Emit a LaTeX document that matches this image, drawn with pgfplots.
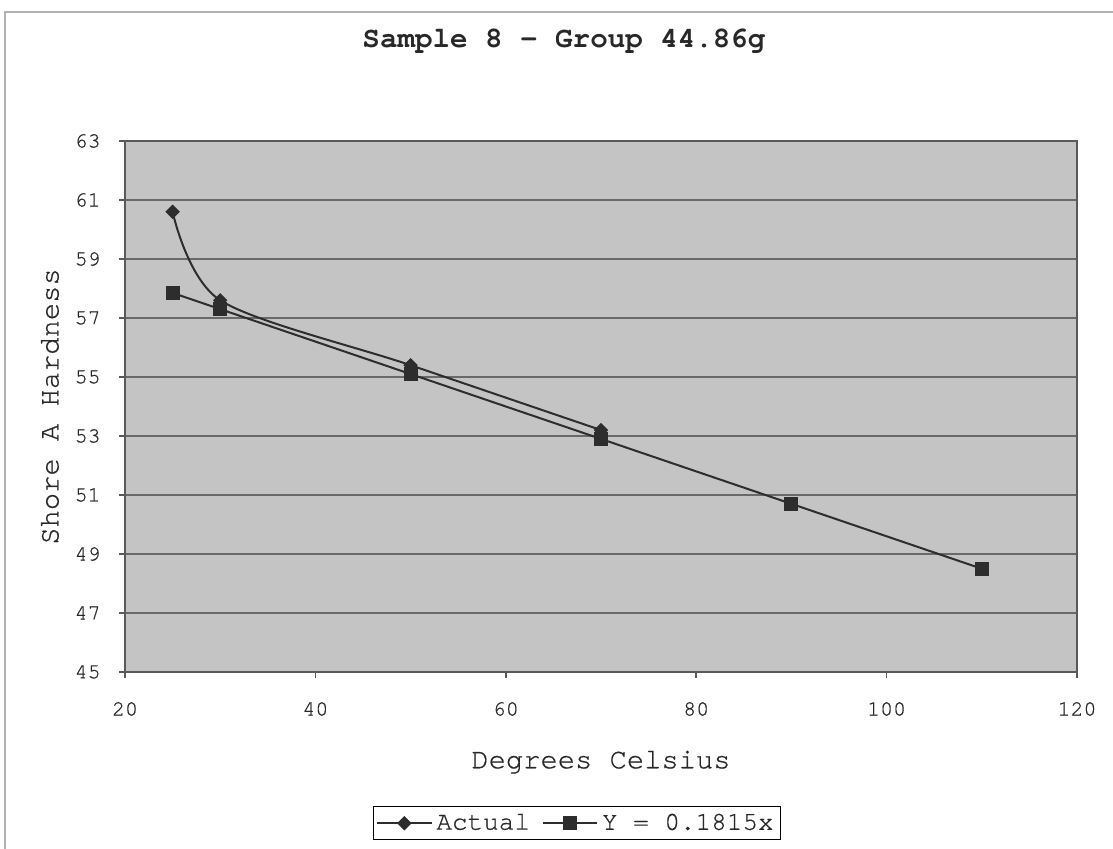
\documentclass[border=0pt]{standalone}
\usepackage{fontspec}
\setmonofont{texgyrecursor}[Extension=.otf, UprightFont=*-regular, BoldFont=*-bold, UprightFeatures={FakeBold=0.6}]
\usepackage{pgfplots}
\usepackage{pgfplotstable}
\pgfplotsset{compat=1.18}
\definecolor{plotbg}{RGB}{196,196,196}
\definecolor{gridc}{RGB}{105,105,105}
\definecolor{datac}{RGB}{45,45,45}
\definecolor{textc}{RGB}{40,40,40}
\pgfplotstableread{
x y
25 60.6
30 57.6
50 55.4
70 53.2
}\actual
\pgfplotstableread{
x y
25 57.85
30 57.3
50 55.1
70 52.9
90 50.7
110 48.5
}\fit
\begin{document}
\begin{tikzpicture}
\begin{axis}[
  at={(0pt,0pt)}, anchor=south west,
  scale only axis, width=476pt, height=265.5pt,
  xmin=20, xmax=120, ymin=45, ymax=63,
  xtick={20,40,...,120}, ytick={45,47,...,63},
  /pgf/number format/assume math mode=true,
  tick align=outside, major tick length=3pt,
  xtick pos=left, ytick pos=left,
  axis background/.style={fill=plotbg},
  ymajorgrids, grid style={gridc, line width=0.75pt},
  axis line style={gray!70!black, line width=1pt},
  tick style={gray!70!black, line width=0.75pt},
  ticklabel style={font=\fontsize{10.8}{13}\selectfont\ttfamily, text=textc},
  xticklabel style={anchor=center, yshift=-15.5pt},
  yticklabel style={anchor=east, inner sep=0pt, xshift=-9pt},
  xlabel={Degrees Celsius}, ylabel={Shore A Hardness},
  label style={font=\fontsize{14.4}{17}\selectfont\ttfamily, text=textc},
  xlabel style={at={(axis description cs:0.5,-0.1698)}, anchor=center},
  ylabel style={at={(axis description cs:-0.0788,0.5)}, anchor=center},
  title={Sample 8 - Group 44.86g},
  title style={at={(0.4611,1.166)}, anchor=center, font=\fontsize{14.6}{17}\selectfont\ttfamily\bfseries, text=textc},
  legend style={at={(0.4748,-0.2849)}, anchor=center, draw=black, thin, fill=white,
    font=\fontsize{13}{15.5}\selectfont\ttfamily, text=textc, inner sep=1.5pt,
    /tikz/every even column/.append style={column sep=4pt}},
  legend columns=2,
  legend image code/.code={\draw[mark repeat=2,mark phase=2] plot coordinates {(0pt,0pt)(13.5pt,0pt)(27pt,0pt)};},
]
\addplot[datac, line width=1pt, smooth, mark=diamond*, mark size=2.9pt,
  mark options={xscale=1.33, solid, fill=datac}] table {\actual};
\addlegendentry{Actual}
\addplot[datac, line width=1pt, mark=square*, mark size=3pt,
  mark options={solid, fill=datac}] table {\fit};
\addlegendentry{Y = 0.1815x}
\end{axis}
\draw[gray!60, line width=0.6pt] (-60pt,-88.5pt) -- (-60pt,330pt) -- (494pt,330pt);
\pgfresetboundingbox
\path[use as bounding box] (-62.5pt,-88.5pt) rectangle (494pt,336pt);
\end{tikzpicture}
\end{document}
